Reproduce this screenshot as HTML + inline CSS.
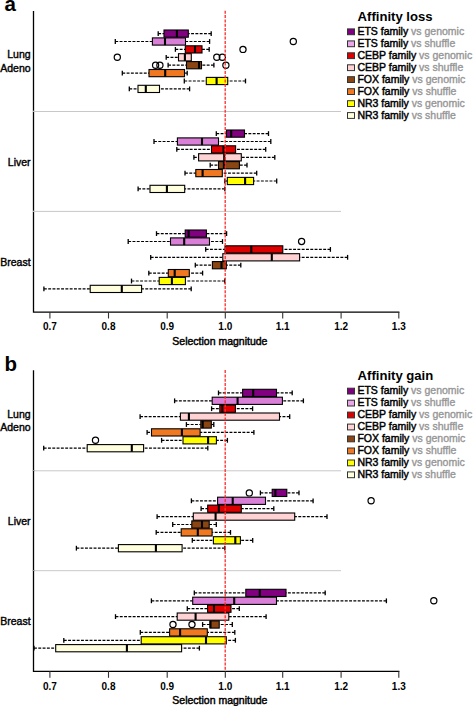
<!DOCTYPE html>
<html><head><meta charset="utf-8"><style>
html,body{margin:0;padding:0;background:#fff;}
body{width:473px;height:706px;overflow:hidden;}
svg{display:block;}
text{font-family:"Liberation Sans",sans-serif;fill:#000;}
.letter{font-size:20.5px;font-weight:bold;}
.tl{font-size:10px;text-anchor:middle;font-weight:bold;}
.xl{font-size:10.5px;stroke:#000;stroke-width:0.45px;}
.gl{font-size:10.5px;text-anchor:end;stroke:#000;stroke-width:0.4px;}
.lt{font-size:13.1px;font-weight:bold;}
.lg{font-size:10.5px;stroke:#000;stroke-width:0.45px;}
.vs{fill:#929292;stroke:#999;stroke-width:0.35px;}
.w{stroke:#000;stroke-width:1.2;stroke-dasharray:2.9 1.4;}
.c{stroke:#000;stroke-width:1.3;}
.b{stroke:#000;stroke-width:1.1;}
.m{stroke:#000;stroke-width:2.1;}
.o{fill:none;stroke:#000;stroke-width:1.2;}
.sep{stroke:#c8c8c8;stroke-width:1;}
.red{stroke:#ff2a2a;stroke-width:1.3;stroke-dasharray:3 1.3;}
.ax{fill:none;stroke:#000;stroke-width:1.3;}
.tk{stroke:#333;stroke-width:1.1;}
.sw{stroke:#333;stroke-width:1;}
</style></head><body>
<svg width="473" height="706" viewBox="0 0 473 706">
<text x="4.5" y="10.6" class="letter">a</text>
<line x1="34" y1="111.5" x2="341" y2="111.5" class="sep"/>
<line x1="34" y1="211.4" x2="341" y2="211.4" class="sep"/>
<line x1="158.2" y1="33.6" x2="164.0" y2="33.6" class="w"/>
<line x1="158.2" y1="31.2" x2="158.2" y2="36.0" class="c"/>
<line x1="211.2" y1="33.6" x2="188.3" y2="33.6" class="w"/>
<line x1="211.2" y1="31.2" x2="211.2" y2="36.0" class="c"/>
<rect x="164.0" y="30.0" width="24.3" height="7.2" fill="#800080" class="b"/>
<line x1="176.9" y1="30.0" x2="176.9" y2="37.2" class="m"/>
<line x1="115.3" y1="41.5" x2="152.4" y2="41.5" class="w"/>
<line x1="115.3" y1="39.1" x2="115.3" y2="43.9" class="c"/>
<line x1="209.6" y1="41.5" x2="185.5" y2="41.5" class="w"/>
<line x1="209.6" y1="39.1" x2="209.6" y2="43.9" class="c"/>
<rect x="152.4" y="37.9" width="33.1" height="7.2" fill="#DA7FD8" class="b"/>
<line x1="165.0" y1="37.9" x2="165.0" y2="45.1" class="m"/>
<circle cx="293.3" cy="41.5" r="3.1" class="o"/>
<line x1="175.4" y1="49.4" x2="185.3" y2="49.4" class="w"/>
<line x1="175.4" y1="47.0" x2="175.4" y2="51.8" class="c"/>
<line x1="209.2" y1="49.4" x2="202.0" y2="49.4" class="w"/>
<line x1="209.2" y1="47.0" x2="209.2" y2="51.8" class="c"/>
<rect x="185.3" y="45.8" width="16.7" height="7.2" fill="#DD0000" class="b"/>
<line x1="195.0" y1="45.8" x2="195.0" y2="53.0" class="m"/>
<circle cx="243.0" cy="49.4" r="3.1" class="o"/>
<line x1="166.2" y1="57.3" x2="178.5" y2="57.3" class="w"/>
<line x1="166.2" y1="54.9" x2="166.2" y2="59.7" class="c"/>
<rect x="178.5" y="53.7" width="12.8" height="7.2" fill="#FFD3D3" class="b"/>
<line x1="184.9" y1="53.7" x2="184.9" y2="60.9" class="m"/>
<circle cx="117.3" cy="57.3" r="3.1" class="o"/>
<circle cx="216.8" cy="57.3" r="3.1" class="o"/>
<circle cx="222.3" cy="57.3" r="3.1" class="o"/>
<line x1="168.1" y1="65.2" x2="186.5" y2="65.2" class="w"/>
<line x1="168.1" y1="62.8" x2="168.1" y2="67.6" class="c"/>
<line x1="213.9" y1="65.2" x2="201.5" y2="65.2" class="w"/>
<line x1="213.9" y1="62.8" x2="213.9" y2="67.6" class="c"/>
<rect x="186.5" y="61.6" width="15.0" height="7.2" fill="#8B4513" class="b"/>
<line x1="199.0" y1="61.6" x2="199.0" y2="68.8" class="m"/>
<circle cx="155.6" cy="65.2" r="3.1" class="o"/>
<circle cx="159.9" cy="65.2" r="3.1" class="o"/>
<circle cx="225.9" cy="65.2" r="3.1" class="o"/>
<line x1="122.3" y1="73.1" x2="149.0" y2="73.1" class="w"/>
<line x1="122.3" y1="70.7" x2="122.3" y2="75.5" class="c"/>
<line x1="187.2" y1="73.1" x2="184.5" y2="73.1" class="w"/>
<line x1="187.2" y1="70.7" x2="187.2" y2="75.5" class="c"/>
<rect x="149.0" y="69.5" width="35.5" height="7.2" fill="#F07820" class="b"/>
<line x1="165.2" y1="69.5" x2="165.2" y2="76.7" class="m"/>
<line x1="184.3" y1="81.0" x2="206.3" y2="81.0" class="w"/>
<line x1="184.3" y1="78.6" x2="184.3" y2="83.4" class="c"/>
<line x1="245.5" y1="81.0" x2="227.7" y2="81.0" class="w"/>
<line x1="245.5" y1="78.6" x2="245.5" y2="83.4" class="c"/>
<rect x="206.3" y="77.4" width="21.4" height="7.2" fill="#FFFF00" class="b"/>
<line x1="216.6" y1="77.4" x2="216.6" y2="84.6" class="m"/>
<line x1="129.3" y1="88.9" x2="138.0" y2="88.9" class="w"/>
<line x1="129.3" y1="86.5" x2="129.3" y2="91.3" class="c"/>
<line x1="189.6" y1="88.9" x2="159.5" y2="88.9" class="w"/>
<line x1="189.6" y1="86.5" x2="189.6" y2="91.3" class="c"/>
<rect x="138.0" y="85.3" width="21.5" height="7.2" fill="#FFFFDD" class="b"/>
<line x1="145.8" y1="85.3" x2="145.8" y2="92.5" class="m"/>
<line x1="216.3" y1="133.6" x2="226.5" y2="133.6" class="w"/>
<line x1="216.3" y1="131.2" x2="216.3" y2="136.0" class="c"/>
<line x1="268.5" y1="133.6" x2="244.5" y2="133.6" class="w"/>
<line x1="268.5" y1="131.2" x2="268.5" y2="136.0" class="c"/>
<rect x="226.5" y="130.0" width="18.0" height="7.2" fill="#800080" class="b"/>
<line x1="231.2" y1="130.0" x2="231.2" y2="137.2" class="m"/>
<line x1="154.0" y1="141.5" x2="177.4" y2="141.5" class="w"/>
<line x1="154.0" y1="139.1" x2="154.0" y2="143.9" class="c"/>
<line x1="270.8" y1="141.5" x2="218.5" y2="141.5" class="w"/>
<line x1="270.8" y1="139.1" x2="270.8" y2="143.9" class="c"/>
<rect x="177.4" y="137.9" width="41.1" height="7.2" fill="#DA7FD8" class="b"/>
<line x1="202.0" y1="137.9" x2="202.0" y2="145.1" class="m"/>
<line x1="176.8" y1="149.4" x2="211.5" y2="149.4" class="w"/>
<line x1="176.8" y1="147.0" x2="176.8" y2="151.8" class="c"/>
<line x1="265.7" y1="149.4" x2="235.6" y2="149.4" class="w"/>
<line x1="265.7" y1="147.0" x2="265.7" y2="151.8" class="c"/>
<rect x="211.5" y="145.8" width="24.1" height="7.2" fill="#DD0000" class="b"/>
<line x1="223.5" y1="145.8" x2="223.5" y2="153.0" class="m"/>
<line x1="193.9" y1="157.3" x2="198.6" y2="157.3" class="w"/>
<line x1="193.9" y1="154.9" x2="193.9" y2="159.7" class="c"/>
<line x1="274.8" y1="157.3" x2="241.3" y2="157.3" class="w"/>
<line x1="274.8" y1="154.9" x2="274.8" y2="159.7" class="c"/>
<rect x="198.6" y="153.7" width="42.7" height="7.2" fill="#FFD3D3" class="b"/>
<line x1="224.2" y1="153.7" x2="224.2" y2="160.9" class="m"/>
<line x1="210.2" y1="165.2" x2="218.5" y2="165.2" class="w"/>
<line x1="210.2" y1="162.8" x2="210.2" y2="167.6" class="c"/>
<line x1="247.0" y1="165.2" x2="239.4" y2="165.2" class="w"/>
<line x1="247.0" y1="162.8" x2="247.0" y2="167.6" class="c"/>
<rect x="218.5" y="161.6" width="20.9" height="7.2" fill="#8B4513" class="b"/>
<line x1="223.9" y1="161.6" x2="223.9" y2="168.8" class="m"/>
<line x1="185.0" y1="173.1" x2="195.8" y2="173.1" class="w"/>
<line x1="185.0" y1="170.7" x2="185.0" y2="175.5" class="c"/>
<line x1="256.7" y1="173.1" x2="222.3" y2="173.1" class="w"/>
<line x1="256.7" y1="170.7" x2="256.7" y2="175.5" class="c"/>
<rect x="195.8" y="169.5" width="26.5" height="7.2" fill="#F07820" class="b"/>
<line x1="202.6" y1="169.5" x2="202.6" y2="176.7" class="m"/>
<line x1="224.8" y1="181.0" x2="227.3" y2="181.0" class="w"/>
<line x1="224.8" y1="178.6" x2="224.8" y2="183.4" class="c"/>
<line x1="276.7" y1="181.0" x2="253.6" y2="181.0" class="w"/>
<line x1="276.7" y1="178.6" x2="276.7" y2="183.4" class="c"/>
<rect x="227.3" y="177.4" width="26.3" height="7.2" fill="#FFFF00" class="b"/>
<line x1="245.1" y1="177.4" x2="245.1" y2="184.6" class="m"/>
<line x1="138.1" y1="188.9" x2="150.0" y2="188.9" class="w"/>
<line x1="138.1" y1="186.5" x2="138.1" y2="191.3" class="c"/>
<line x1="224.8" y1="188.9" x2="184.7" y2="188.9" class="w"/>
<line x1="224.8" y1="186.5" x2="224.8" y2="191.3" class="c"/>
<rect x="150.0" y="185.3" width="34.7" height="7.2" fill="#FFFFDD" class="b"/>
<line x1="166.9" y1="185.3" x2="166.9" y2="192.5" class="m"/>
<line x1="156.5" y1="233.6" x2="185.2" y2="233.6" class="w"/>
<line x1="156.5" y1="231.2" x2="156.5" y2="236.0" class="c"/>
<line x1="226.6" y1="233.6" x2="206.4" y2="233.6" class="w"/>
<line x1="226.6" y1="231.2" x2="226.6" y2="236.0" class="c"/>
<rect x="185.2" y="230.0" width="21.2" height="7.2" fill="#800080" class="b"/>
<line x1="188.6" y1="230.0" x2="188.6" y2="237.2" class="m"/>
<line x1="128.2" y1="241.5" x2="170.5" y2="241.5" class="w"/>
<line x1="128.2" y1="239.1" x2="128.2" y2="243.9" class="c"/>
<line x1="222.5" y1="241.5" x2="209.5" y2="241.5" class="w"/>
<line x1="222.5" y1="239.1" x2="222.5" y2="243.9" class="c"/>
<rect x="170.5" y="237.9" width="39.0" height="7.2" fill="#DA7FD8" class="b"/>
<line x1="184.2" y1="237.9" x2="184.2" y2="245.1" class="m"/>
<circle cx="301.6" cy="241.5" r="3.1" class="o"/>
<line x1="205.7" y1="249.4" x2="225.0" y2="249.4" class="w"/>
<line x1="205.7" y1="247.0" x2="205.7" y2="251.8" class="c"/>
<line x1="330.4" y1="249.4" x2="282.8" y2="249.4" class="w"/>
<line x1="330.4" y1="247.0" x2="330.4" y2="251.8" class="c"/>
<rect x="225.0" y="245.8" width="57.8" height="7.2" fill="#DD0000" class="b"/>
<line x1="251.3" y1="245.8" x2="251.3" y2="253.0" class="m"/>
<line x1="150.7" y1="257.3" x2="222.8" y2="257.3" class="w"/>
<line x1="150.7" y1="254.9" x2="150.7" y2="259.7" class="c"/>
<line x1="347.6" y1="257.3" x2="299.6" y2="257.3" class="w"/>
<line x1="347.6" y1="254.9" x2="347.6" y2="259.7" class="c"/>
<rect x="222.8" y="253.7" width="76.8" height="7.2" fill="#FFD3D3" class="b"/>
<line x1="271.8" y1="253.7" x2="271.8" y2="260.9" class="m"/>
<line x1="195.3" y1="265.2" x2="212.4" y2="265.2" class="w"/>
<line x1="195.3" y1="262.8" x2="195.3" y2="267.6" class="c"/>
<line x1="240.8" y1="265.2" x2="226.3" y2="265.2" class="w"/>
<line x1="240.8" y1="262.8" x2="240.8" y2="267.6" class="c"/>
<rect x="212.4" y="261.6" width="13.9" height="7.2" fill="#8B4513" class="b"/>
<line x1="221.5" y1="261.6" x2="221.5" y2="268.8" class="m"/>
<line x1="148.8" y1="273.1" x2="168.3" y2="273.1" class="w"/>
<line x1="148.8" y1="270.7" x2="148.8" y2="275.5" class="c"/>
<line x1="202.6" y1="273.1" x2="189.3" y2="273.1" class="w"/>
<line x1="202.6" y1="270.7" x2="202.6" y2="275.5" class="c"/>
<rect x="168.3" y="269.5" width="21.0" height="7.2" fill="#F07820" class="b"/>
<line x1="174.7" y1="269.5" x2="174.7" y2="276.7" class="m"/>
<line x1="131.5" y1="281.0" x2="159.2" y2="281.0" class="w"/>
<line x1="131.5" y1="278.6" x2="131.5" y2="283.4" class="c"/>
<line x1="224.7" y1="281.0" x2="185.4" y2="281.0" class="w"/>
<line x1="224.7" y1="278.6" x2="224.7" y2="283.4" class="c"/>
<rect x="159.2" y="277.4" width="26.2" height="7.2" fill="#FFFF00" class="b"/>
<line x1="171.9" y1="277.4" x2="171.9" y2="284.6" class="m"/>
<line x1="43.9" y1="288.9" x2="90.2" y2="288.9" class="w"/>
<line x1="43.9" y1="286.5" x2="43.9" y2="291.3" class="c"/>
<line x1="191.2" y1="288.9" x2="141.6" y2="288.9" class="w"/>
<line x1="191.2" y1="286.5" x2="191.2" y2="291.3" class="c"/>
<rect x="90.2" y="285.3" width="51.4" height="7.2" fill="#FFFFDD" class="b"/>
<line x1="121.8" y1="285.3" x2="121.8" y2="292.5" class="m"/>
<line x1="225.2" y1="10.8" x2="225.2" y2="311.5" class="red"/>
<path d="M33.5 11.0 V312.1 H399.4" class="ax"/>
<rect x="32.6" y="110.8" width="1.8" height="0.9" fill="#fff"/>
<rect x="32.6" y="210.8" width="1.8" height="0.9" fill="#fff"/>
<line x1="49.9" y1="312.0" x2="49.9" y2="318.5" class="tk"/>
<text x="49.9" y="329.9" class="tl">0.7</text>
<line x1="108.5" y1="312.0" x2="108.5" y2="318.5" class="tk"/>
<text x="108.5" y="329.9" class="tl">0.8</text>
<line x1="167.2" y1="312.0" x2="167.2" y2="318.5" class="tk"/>
<text x="167.2" y="329.9" class="tl">0.9</text>
<line x1="225.3" y1="312.0" x2="225.3" y2="318.5" class="tk"/>
<text x="225.3" y="329.9" class="tl">1.0</text>
<line x1="282.7" y1="312.0" x2="282.7" y2="318.5" class="tk"/>
<text x="282.7" y="329.9" class="tl">1.1</text>
<line x1="341.1" y1="312.0" x2="341.1" y2="318.5" class="tk"/>
<text x="341.1" y="329.9" class="tl">1.2</text>
<line x1="398.8" y1="312.0" x2="398.8" y2="318.5" class="tk"/>
<text x="398.8" y="329.9" class="tl">1.3</text>
<text x="172.3" y="344.6" class="xl">Selection magnitude</text>
<text x="30.6" y="58.4" class="gl">Lung</text>
<text x="30.6" y="71.7" class="gl">Adeno</text>
<text x="30.6" y="165.6" class="gl">Liver</text>
<text x="30.6" y="265.6" class="gl">Breast</text>
<text x="357.6" y="20.6" class="lt">Affinity loss</text>
<rect x="347.5" y="28.9" width="7" height="5.8" fill="#800080" class="sw"/>
<text x="357.4" y="34.8" class="lg">ETS family <tspan class="vs">vs genomic</tspan></text>
<rect x="347.5" y="40.9" width="7" height="5.8" fill="#EBA6E8" class="sw"/>
<text x="357.4" y="46.8" class="lg">ETS family <tspan class="vs">vs shuffle</tspan></text>
<rect x="347.5" y="52.8" width="7" height="5.8" fill="#DD0000" class="sw"/>
<text x="357.4" y="58.7" class="lg">CEBP family <tspan class="vs">vs genomic</tspan></text>
<rect x="347.5" y="64.8" width="7" height="5.8" fill="#FFD3D3" class="sw"/>
<text x="357.4" y="70.7" class="lg">CEBP family <tspan class="vs">vs shuffle</tspan></text>
<rect x="347.5" y="76.7" width="7" height="5.8" fill="#8B4513" class="sw"/>
<text x="357.4" y="82.6" class="lg">FOX family <tspan class="vs">vs genomic</tspan></text>
<rect x="347.5" y="88.7" width="7" height="5.8" fill="#F07820" class="sw"/>
<text x="357.4" y="94.6" class="lg">FOX family <tspan class="vs">vs shuffle</tspan></text>
<rect x="347.5" y="100.7" width="7" height="5.8" fill="#FFFF00" class="sw"/>
<text x="357.4" y="106.6" class="lg">NR3 family <tspan class="vs">vs genomic</tspan></text>
<rect x="347.5" y="112.6" width="7" height="5.8" fill="#FFFFDD" class="sw"/>
<text x="357.4" y="118.5" class="lg">NR3 family <tspan class="vs">vs shuffle</tspan></text>
<text x="4.5" y="370.7" class="letter">b</text>
<line x1="34" y1="470.8" x2="341" y2="470.8" class="sep"/>
<line x1="34" y1="570.7" x2="341" y2="570.7" class="sep"/>
<line x1="218.5" y1="392.9" x2="242.6" y2="392.9" class="w"/>
<line x1="218.5" y1="390.5" x2="218.5" y2="395.3" class="c"/>
<line x1="292.2" y1="392.9" x2="276.5" y2="392.9" class="w"/>
<line x1="292.2" y1="390.5" x2="292.2" y2="395.3" class="c"/>
<rect x="242.6" y="389.3" width="33.9" height="7.2" fill="#800080" class="b"/>
<line x1="253.2" y1="389.3" x2="253.2" y2="396.5" class="m"/>
<line x1="174.6" y1="400.8" x2="212.2" y2="400.8" class="w"/>
<line x1="174.6" y1="398.4" x2="174.6" y2="403.2" class="c"/>
<line x1="303.4" y1="400.8" x2="282.4" y2="400.8" class="w"/>
<line x1="303.4" y1="398.4" x2="303.4" y2="403.2" class="c"/>
<rect x="212.2" y="397.2" width="70.2" height="7.2" fill="#DA7FD8" class="b"/>
<line x1="237.6" y1="397.2" x2="237.6" y2="404.4" class="m"/>
<line x1="211.6" y1="408.7" x2="219.8" y2="408.7" class="w"/>
<line x1="211.6" y1="406.3" x2="211.6" y2="411.1" class="c"/>
<line x1="252.6" y1="408.7" x2="235.4" y2="408.7" class="w"/>
<line x1="252.6" y1="406.3" x2="252.6" y2="411.1" class="c"/>
<rect x="219.8" y="405.1" width="15.6" height="7.2" fill="#DD0000" class="b"/>
<line x1="222.3" y1="405.1" x2="222.3" y2="412.3" class="m"/>
<line x1="140.1" y1="416.6" x2="180.4" y2="416.6" class="w"/>
<line x1="140.1" y1="414.2" x2="140.1" y2="419.0" class="c"/>
<line x1="289.7" y1="416.6" x2="279.5" y2="416.6" class="w"/>
<line x1="289.7" y1="414.2" x2="289.7" y2="419.0" class="c"/>
<rect x="180.4" y="413.0" width="99.1" height="7.2" fill="#FFD3D3" class="b"/>
<line x1="188.9" y1="413.0" x2="188.9" y2="420.2" class="m"/>
<line x1="186.4" y1="424.5" x2="200.8" y2="424.5" class="w"/>
<line x1="186.4" y1="422.1" x2="186.4" y2="426.9" class="c"/>
<line x1="213.8" y1="424.5" x2="211.3" y2="424.5" class="w"/>
<line x1="213.8" y1="422.1" x2="213.8" y2="426.9" class="c"/>
<rect x="200.8" y="420.9" width="10.5" height="7.2" fill="#8B4513" class="b"/>
<line x1="202.7" y1="420.9" x2="202.7" y2="428.1" class="m"/>
<line x1="147.1" y1="432.4" x2="151.5" y2="432.4" class="w"/>
<line x1="147.1" y1="430.0" x2="147.1" y2="434.8" class="c"/>
<line x1="253.9" y1="432.4" x2="200.1" y2="432.4" class="w"/>
<line x1="253.9" y1="430.0" x2="253.9" y2="434.8" class="c"/>
<rect x="151.5" y="428.8" width="48.6" height="7.2" fill="#F07820" class="b"/>
<line x1="181.9" y1="428.8" x2="181.9" y2="436.0" class="m"/>
<line x1="161.6" y1="440.3" x2="183.0" y2="440.3" class="w"/>
<line x1="161.6" y1="437.9" x2="161.6" y2="442.7" class="c"/>
<line x1="227.4" y1="440.3" x2="216.4" y2="440.3" class="w"/>
<line x1="227.4" y1="437.9" x2="227.4" y2="442.7" class="c"/>
<rect x="183.0" y="436.7" width="33.4" height="7.2" fill="#FFFF00" class="b"/>
<line x1="208.1" y1="436.7" x2="208.1" y2="443.9" class="m"/>
<circle cx="95.5" cy="440.3" r="3.1" class="o"/>
<line x1="43.7" y1="448.2" x2="87.2" y2="448.2" class="w"/>
<line x1="43.7" y1="445.8" x2="43.7" y2="450.6" class="c"/>
<line x1="207.8" y1="448.2" x2="143.6" y2="448.2" class="w"/>
<line x1="207.8" y1="445.8" x2="207.8" y2="450.6" class="c"/>
<rect x="87.2" y="444.6" width="56.4" height="7.2" fill="#FFFFDD" class="b"/>
<line x1="131.8" y1="444.6" x2="131.8" y2="451.8" class="m"/>
<line x1="260.4" y1="492.9" x2="272.2" y2="492.9" class="w"/>
<line x1="260.4" y1="490.5" x2="260.4" y2="495.3" class="c"/>
<line x1="299.0" y1="492.9" x2="286.8" y2="492.9" class="w"/>
<line x1="299.0" y1="490.5" x2="299.0" y2="495.3" class="c"/>
<rect x="272.2" y="489.3" width="14.6" height="7.2" fill="#800080" class="b"/>
<line x1="275.4" y1="489.3" x2="275.4" y2="496.5" class="m"/>
<circle cx="249.3" cy="492.9" r="3.1" class="o"/>
<line x1="191.4" y1="500.8" x2="217.6" y2="500.8" class="w"/>
<line x1="191.4" y1="498.4" x2="191.4" y2="503.2" class="c"/>
<line x1="313.1" y1="500.8" x2="265.5" y2="500.8" class="w"/>
<line x1="313.1" y1="498.4" x2="313.1" y2="503.2" class="c"/>
<rect x="217.6" y="497.2" width="47.9" height="7.2" fill="#DA7FD8" class="b"/>
<line x1="232.7" y1="497.2" x2="232.7" y2="504.4" class="m"/>
<circle cx="371.1" cy="500.8" r="3.1" class="o"/>
<line x1="201.1" y1="508.7" x2="207.7" y2="508.7" class="w"/>
<line x1="201.1" y1="506.3" x2="201.1" y2="511.1" class="c"/>
<line x1="273.8" y1="508.7" x2="241.3" y2="508.7" class="w"/>
<line x1="273.8" y1="506.3" x2="273.8" y2="511.1" class="c"/>
<rect x="207.7" y="505.1" width="33.6" height="7.2" fill="#DD0000" class="b"/>
<line x1="218.8" y1="505.1" x2="218.8" y2="512.3" class="m"/>
<line x1="157.1" y1="516.6" x2="193.3" y2="516.6" class="w"/>
<line x1="157.1" y1="514.2" x2="157.1" y2="519.0" class="c"/>
<line x1="327.0" y1="516.6" x2="294.7" y2="516.6" class="w"/>
<line x1="327.0" y1="514.2" x2="327.0" y2="519.0" class="c"/>
<rect x="193.3" y="513.0" width="101.4" height="7.2" fill="#FFD3D3" class="b"/>
<line x1="215.6" y1="513.0" x2="215.6" y2="520.2" class="m"/>
<line x1="172.7" y1="524.5" x2="191.8" y2="524.5" class="w"/>
<line x1="172.7" y1="522.1" x2="172.7" y2="526.9" class="c"/>
<line x1="216.3" y1="524.5" x2="209.2" y2="524.5" class="w"/>
<line x1="216.3" y1="522.1" x2="216.3" y2="526.9" class="c"/>
<rect x="191.8" y="520.9" width="17.4" height="7.2" fill="#8B4513" class="b"/>
<line x1="202.0" y1="520.9" x2="202.0" y2="528.1" class="m"/>
<line x1="156.2" y1="532.4" x2="181.2" y2="532.4" class="w"/>
<line x1="156.2" y1="530.0" x2="156.2" y2="534.8" class="c"/>
<line x1="230.5" y1="532.4" x2="212.1" y2="532.4" class="w"/>
<line x1="230.5" y1="530.0" x2="230.5" y2="534.8" class="c"/>
<rect x="181.2" y="528.8" width="30.9" height="7.2" fill="#F07820" class="b"/>
<line x1="197.8" y1="528.8" x2="197.8" y2="536.0" class="m"/>
<line x1="192.3" y1="540.3" x2="213.4" y2="540.3" class="w"/>
<line x1="192.3" y1="537.9" x2="192.3" y2="542.7" class="c"/>
<line x1="252.7" y1="540.3" x2="240.4" y2="540.3" class="w"/>
<line x1="252.7" y1="537.9" x2="252.7" y2="542.7" class="c"/>
<rect x="213.4" y="536.7" width="27.0" height="7.2" fill="#FFFF00" class="b"/>
<line x1="235.3" y1="536.7" x2="235.3" y2="543.9" class="m"/>
<line x1="76.4" y1="548.2" x2="118.4" y2="548.2" class="w"/>
<line x1="76.4" y1="545.8" x2="76.4" y2="550.6" class="c"/>
<line x1="224.8" y1="548.2" x2="182.1" y2="548.2" class="w"/>
<line x1="224.8" y1="545.8" x2="224.8" y2="550.6" class="c"/>
<rect x="118.4" y="544.6" width="63.7" height="7.2" fill="#FFFFDD" class="b"/>
<line x1="155.9" y1="544.6" x2="155.9" y2="551.8" class="m"/>
<line x1="194.3" y1="592.9" x2="245.8" y2="592.9" class="w"/>
<line x1="194.3" y1="590.5" x2="194.3" y2="595.3" class="c"/>
<line x1="325.2" y1="592.9" x2="286.0" y2="592.9" class="w"/>
<line x1="325.2" y1="590.5" x2="325.2" y2="595.3" class="c"/>
<rect x="245.8" y="589.3" width="40.2" height="7.2" fill="#800080" class="b"/>
<line x1="259.8" y1="589.3" x2="259.8" y2="596.5" class="m"/>
<line x1="151.4" y1="600.8" x2="192.7" y2="600.8" class="w"/>
<line x1="151.4" y1="598.4" x2="151.4" y2="603.2" class="c"/>
<line x1="386.4" y1="600.8" x2="276.5" y2="600.8" class="w"/>
<line x1="386.4" y1="598.4" x2="386.4" y2="603.2" class="c"/>
<rect x="192.7" y="597.2" width="83.8" height="7.2" fill="#DA7FD8" class="b"/>
<line x1="234.2" y1="597.2" x2="234.2" y2="604.4" class="m"/>
<circle cx="433.8" cy="600.8" r="3.1" class="o"/>
<line x1="187.3" y1="608.7" x2="207.6" y2="608.7" class="w"/>
<line x1="187.3" y1="606.3" x2="187.3" y2="611.1" class="c"/>
<line x1="239.3" y1="608.7" x2="231.0" y2="608.7" class="w"/>
<line x1="239.3" y1="606.3" x2="239.3" y2="611.1" class="c"/>
<rect x="207.6" y="605.1" width="23.4" height="7.2" fill="#DD0000" class="b"/>
<line x1="214.0" y1="605.1" x2="214.0" y2="612.3" class="m"/>
<line x1="115.5" y1="616.6" x2="177.2" y2="616.6" class="w"/>
<line x1="115.5" y1="614.2" x2="115.5" y2="619.0" class="c"/>
<line x1="266.1" y1="616.6" x2="228.8" y2="616.6" class="w"/>
<line x1="266.1" y1="614.2" x2="266.1" y2="619.0" class="c"/>
<rect x="177.2" y="613.0" width="51.6" height="7.2" fill="#FFD3D3" class="b"/>
<line x1="195.6" y1="613.0" x2="195.6" y2="620.2" class="m"/>
<line x1="202.6" y1="624.5" x2="210.0" y2="624.5" class="w"/>
<line x1="202.6" y1="622.1" x2="202.6" y2="626.9" class="c"/>
<line x1="232.3" y1="624.5" x2="219.2" y2="624.5" class="w"/>
<line x1="232.3" y1="622.1" x2="232.3" y2="626.9" class="c"/>
<rect x="210.0" y="620.9" width="9.2" height="7.2" fill="#8B4513" class="b"/>
<line x1="210.5" y1="620.9" x2="210.5" y2="628.1" class="m"/>
<circle cx="173.0" cy="624.5" r="3.1" class="o"/>
<circle cx="192.0" cy="624.5" r="3.1" class="o"/>
<line x1="140.3" y1="632.4" x2="169.6" y2="632.4" class="w"/>
<line x1="140.3" y1="630.0" x2="140.3" y2="634.8" class="c"/>
<line x1="234.8" y1="632.4" x2="207.3" y2="632.4" class="w"/>
<line x1="234.8" y1="630.0" x2="234.8" y2="634.8" class="c"/>
<rect x="169.6" y="628.8" width="37.7" height="7.2" fill="#F07820" class="b"/>
<line x1="180.1" y1="628.8" x2="180.1" y2="636.0" class="m"/>
<line x1="63.8" y1="640.3" x2="141.2" y2="640.3" class="w"/>
<line x1="63.8" y1="637.9" x2="63.8" y2="642.7" class="c"/>
<line x1="235.4" y1="640.3" x2="226.3" y2="640.3" class="w"/>
<line x1="235.4" y1="637.9" x2="235.4" y2="642.7" class="c"/>
<rect x="141.2" y="636.7" width="85.1" height="7.2" fill="#FFFF00" class="b"/>
<line x1="206.0" y1="636.7" x2="206.0" y2="643.9" class="m"/>
<line x1="34.0" y1="648.2" x2="55.7" y2="648.2" class="w"/>
<line x1="34.0" y1="645.8" x2="34.0" y2="650.6" class="c"/>
<line x1="199.4" y1="648.2" x2="181.6" y2="648.2" class="w"/>
<line x1="199.4" y1="645.8" x2="199.4" y2="650.6" class="c"/>
<rect x="55.7" y="644.6" width="125.9" height="7.2" fill="#FFFFDD" class="b"/>
<line x1="126.9" y1="644.6" x2="126.9" y2="651.8" class="m"/>
<line x1="225.2" y1="370.1" x2="225.2" y2="670.8" class="red"/>
<path d="M33.5 370.3 V671.4 H399.4" class="ax"/>
<rect x="32.6" y="470.1" width="1.8" height="0.9" fill="#999"/>
<rect x="32.6" y="570.1" width="1.8" height="0.9" fill="#999"/>
<line x1="49.9" y1="671.3" x2="49.9" y2="677.8" class="tk"/>
<text x="49.9" y="689.6" class="tl">0.7</text>
<line x1="108.5" y1="671.3" x2="108.5" y2="677.8" class="tk"/>
<text x="108.5" y="689.6" class="tl">0.8</text>
<line x1="167.2" y1="671.3" x2="167.2" y2="677.8" class="tk"/>
<text x="167.2" y="689.6" class="tl">0.9</text>
<line x1="225.3" y1="671.3" x2="225.3" y2="677.8" class="tk"/>
<text x="225.3" y="689.6" class="tl">1.0</text>
<line x1="282.7" y1="671.3" x2="282.7" y2="677.8" class="tk"/>
<text x="282.7" y="689.6" class="tl">1.1</text>
<line x1="341.1" y1="671.3" x2="341.1" y2="677.8" class="tk"/>
<text x="341.1" y="689.6" class="tl">1.2</text>
<line x1="398.8" y1="671.3" x2="398.8" y2="677.8" class="tk"/>
<text x="398.8" y="689.6" class="tl">1.3</text>
<text x="172.3" y="704.3" class="xl">Selection magnitude</text>
<text x="30.6" y="417.7" class="gl">Lung</text>
<text x="30.6" y="431.0" class="gl">Adeno</text>
<text x="30.6" y="524.9" class="gl">Liver</text>
<text x="30.6" y="624.9" class="gl">Breast</text>
<text x="357.6" y="379.9" class="lt">Affinity gain</text>
<rect x="347.5" y="388.2" width="7" height="5.8" fill="#800080" class="sw"/>
<text x="357.4" y="394.1" class="lg">ETS family <tspan class="vs">vs genomic</tspan></text>
<rect x="347.5" y="400.2" width="7" height="5.8" fill="#EBA6E8" class="sw"/>
<text x="357.4" y="406.1" class="lg">ETS family <tspan class="vs">vs shuffle</tspan></text>
<rect x="347.5" y="412.1" width="7" height="5.8" fill="#DD0000" class="sw"/>
<text x="357.4" y="418.0" class="lg">CEBP family <tspan class="vs">vs genomic</tspan></text>
<rect x="347.5" y="424.1" width="7" height="5.8" fill="#FFD3D3" class="sw"/>
<text x="357.4" y="430.0" class="lg">CEBP family <tspan class="vs">vs shuffle</tspan></text>
<rect x="347.5" y="436.0" width="7" height="5.8" fill="#8B4513" class="sw"/>
<text x="357.4" y="441.9" class="lg">FOX family <tspan class="vs">vs genomic</tspan></text>
<rect x="347.5" y="448.0" width="7" height="5.8" fill="#F07820" class="sw"/>
<text x="357.4" y="453.9" class="lg">FOX family <tspan class="vs">vs shuffle</tspan></text>
<rect x="347.5" y="460.0" width="7" height="5.8" fill="#FFFF00" class="sw"/>
<text x="357.4" y="465.9" class="lg">NR3 family <tspan class="vs">vs genomic</tspan></text>
<rect x="347.5" y="471.9" width="7" height="5.8" fill="#FFFFDD" class="sw"/>
<text x="357.4" y="477.8" class="lg">NR3 family <tspan class="vs">vs shuffle</tspan></text>
</svg>
</body></html>
